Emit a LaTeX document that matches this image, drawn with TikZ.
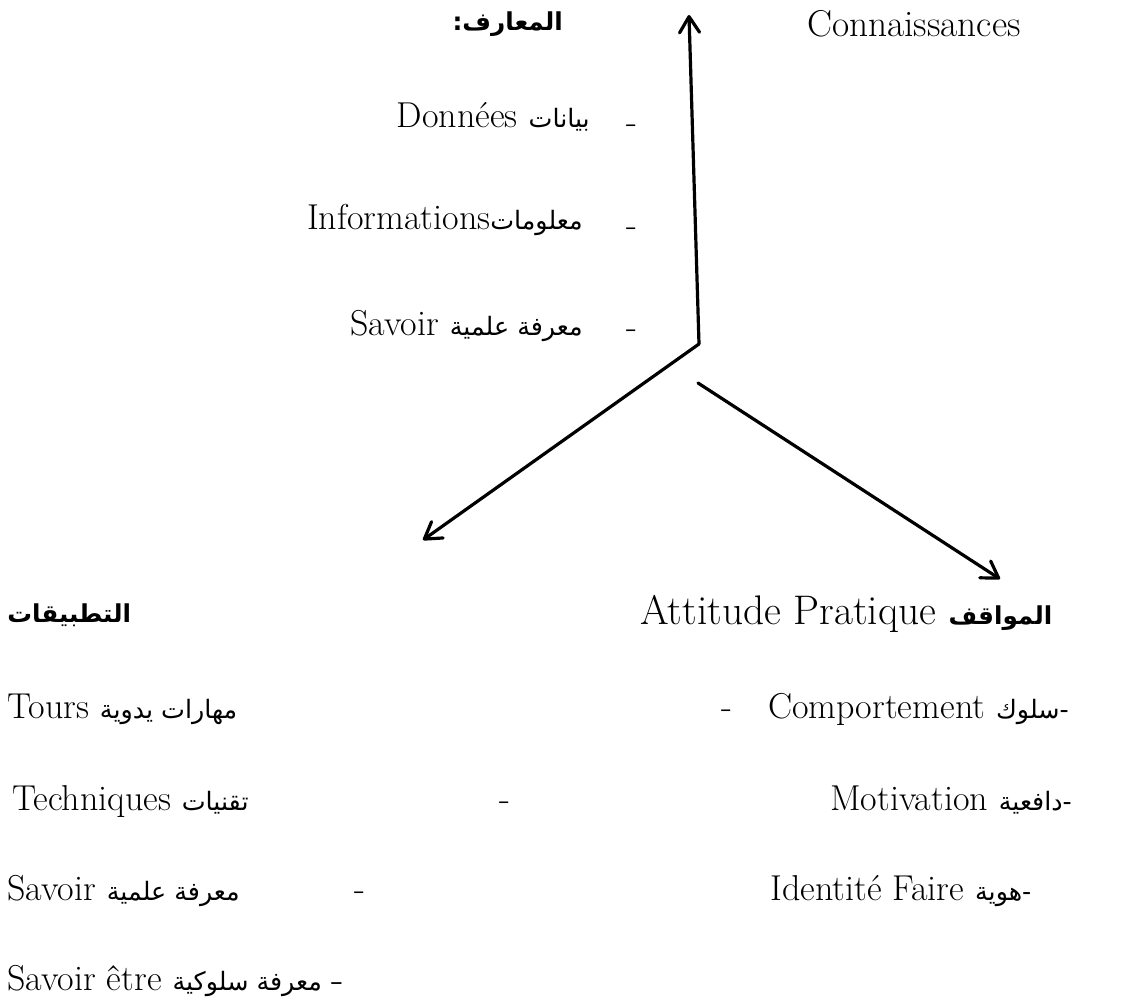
\documentclass[tikz,border=0pt]{standalone}
\usepackage{fontspec}
\newfontfamily\arabicfont[Script=Arabic]{DejaVu Sans}
\TeXXeTstate=1
\usetikzlibrary{arrows.meta}
\newcommand\artxt[1]{{\arabicfont\fontsize{19}{24}\selectfont\beginR #1\endR}}
\newcommand\arbtxt[1]{{\arabicfont\bfseries\fontsize{18.5}{24}\selectfont\beginR #1\endR}}
\tikzset{
  fr/.style={inner sep=0pt, font=\fontsize{27}{33}\selectfont},
  frbig/.style={inner sep=0pt, font=\fontsize{31}{37}\selectfont},
  dashmark/.style={inner sep=0pt, font=\fontsize{27}{33}\selectfont},
  link/.style={line width=2.4pt, line cap=round, -{Straight Barb[length=12pt,width=15pt,round]}}
}
\begin{document}
\begin{tikzpicture}[x=0.75pt,y=-0.75pt]
\useasboundingbox (0,0) rectangle (1122,1002);
% ---------- top block ----------
\node[fr, anchor=base east] (maarif) at (563,31) {\arbtxt{المعارف:}};
\node[fr, anchor=base west, font=\fontsize{28}{34}\selectfont] (conn) at (807,37) {Connaissances};

\node[fr, anchor=base east] (donnees) at (590,128) {Données \artxt{بيانات}};
\node[dashmark, anchor=base] (d-dash) at (632,134) {-};

\node[fr, anchor=base east] (infos) at (583,230) {Informations\artxt{معلومات}};
\node[dashmark, anchor=base] (i-dash) at (632,237) {-};

\node[fr, anchor=base east] (savoir1) at (583,335) {Savoir \artxt{معرفة علمية}};
\node[dashmark, anchor=base] (s-dash) at (632,339) {-};

% ---------- arrows ----------
\coordinate (J) at (699,344);
\coordinate (Top) at (689,15);
\coordinate (Left) at (423,540);
\coordinate (S) at (698,383);
\coordinate (Right) at (1000,579);
\draw[link] (J) -- (Top);
\draw[link] (J) -- (Left);
\draw[link] (S) -- (Right);

% ---------- bottom block ----------
\node[fr, anchor=base west] (tatbiq) at (7,622) {\arbtxt{التطبيقات}};
\node[frbig, anchor=base west] (att) at (640,624) {Attitude Pratique \arbtxt{المواقف}};

% row 1
\node[fr, anchor=base west] (tours) at (7,718) {Tours \artxt{مهارات يدوية}};
\node[dashmark, anchor=base] (r1-dash) at (727,718) {-};
\node[fr, anchor=base west] (comp) at (768,718) {Comportement \artxt{-سلوك}};

% row 2
\node[fr, anchor=base west] (tech) at (12,810) {Techniques \artxt{تقنيات}};
\node[dashmark, anchor=base] (r2-dash) at (505,810) {-};
\node[fr, anchor=base west] (motiv) at (830,810) {Motivation \artxt{-دافعية}};

% row 3
\node[fr, anchor=base west] (sav2) at (7,900) {Savoir \artxt{معرفة علمية}};
\node[dashmark, anchor=base] (r3-dash) at (360,900) {-};
\node[fr, anchor=base west] (ident) at (770,900) {Identité Faire \artxt{-هوية}};

% row 4
\node[fr, anchor=base west] (etre) at (7,990) {Savoir être \artxt{– معرفة سلوكية}};
\end{tikzpicture}
\end{document}
